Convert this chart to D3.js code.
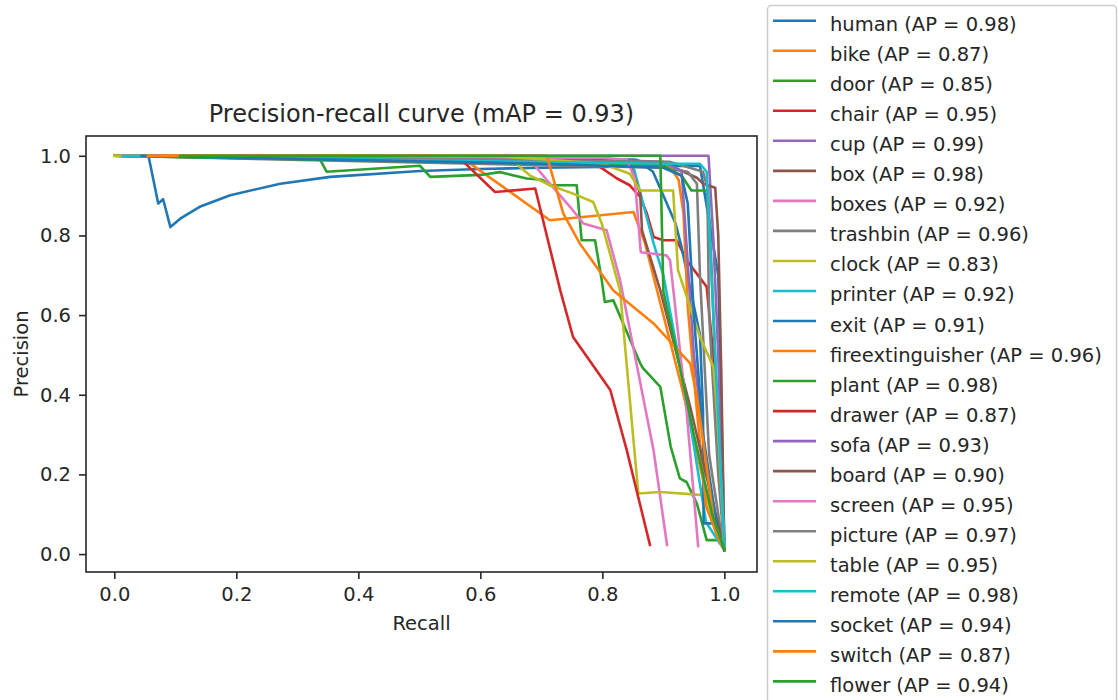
<!DOCTYPE html>
<html>
<head>
<meta charset="utf-8">
<script src="https://cdn.jsdelivr.net/npm/d3@7"></script>
<style>
  body { margin: 0; background: #fff; }
  svg { display: block; font-family: "DejaVu Sans", sans-serif; }
</style>
</head>
<body>
<svg id="chart" width="1118" height="700"></svg>
<script>
// class names and their AP values (legend order)
const classNames = ['human', 'bike', 'door', 'chair', 'cup', 'box', 'boxes', 'trashbin', 'clock', 'printer',
  'exit', 'fireextinguisher', 'plant', 'drawer', 'sofa', 'board', 'screen', 'picture', 'table', 'remote',
  'socket', 'switch', 'flower'];
const apValues = [0.98, 0.87, 0.85, 0.95, 0.99, 0.98, 0.92, 0.96, 0.83, 0.92,
  0.91, 0.96, 0.98, 0.87, 0.93, 0.90, 0.95, 0.97, 0.95, 0.98,
  0.94, 0.87, 0.94];
const mAP = 0.93;

// [recall, precision] points
const human = [[0.0, 1.0], [0.056, 1.0], [0.072, 0.88], [0.08, 0.891], [0.092, 0.821], [0.108, 0.842], [0.14, 0.872],
  [0.19, 0.901], [0.272, 0.93], [0.354, 0.947], [0.501, 0.962], [0.6, 0.967], [0.7, 0.97], [0.8, 0.972],
  [0.9, 0.974], [0.96, 0.975], [0.99, 0.7], [1.0, 0.02]];
const bike = [[0.0, 1.0], [0.55, 1.0], [0.572, 0.993], [0.714, 0.838], [0.851, 0.859], [0.87, 0.78], [0.93, 0.42],
  [0.975, 0.12], [1.0, 0.01]];
const door = [[0.0, 1.0], [0.334, 1.0], [0.348, 0.96], [0.501, 0.975], [0.518, 0.947], [0.6, 0.952], [0.632, 0.959],
  [0.676, 0.943], [0.701, 0.94], [0.714, 0.926], [0.758, 0.926], [0.766, 0.788], [0.788, 0.788], [0.799, 0.688],
  [0.804, 0.633], [0.818, 0.637], [0.862, 0.479], [0.867, 0.466], [0.895, 0.42], [0.912, 0.27], [0.927, 0.19],
  [0.938, 0.181], [0.955, 0.127], [0.971, 0.035], [0.988, 0.035]];
const chair = [[0.0, 1.0], [0.7, 1.0], [0.747, 0.989], [0.758, 0.976], [0.796, 0.972], [0.824, 0.943], [0.845, 0.926],
  [0.862, 0.897], [0.873, 0.855], [0.884, 0.796], [0.9, 0.788], [0.922, 0.788], [0.938, 0.738], [0.971, 0.671],
  [0.985, 0.45], [1.0, 0.02]];
const cup = [[0.0, 1.0], [0.974, 1.0], [0.977, 0.92], [0.982, 0.79], [0.99, 0.5], [1.0, 0.01]];
const box = [[0.0, 1.0], [0.85, 0.99], [0.916, 0.972], [0.955, 0.945], [0.965, 0.93], [0.985, 0.92], [0.99, 0.8],
  [0.995, 0.45], [1.0, 0.01]];
const boxes = [[0.0, 1.0], [0.62, 1.0], [0.665, 0.993], [0.687, 0.98], [0.709, 0.939], [0.747, 0.872], [0.769, 0.83],
  [0.807, 0.813], [0.829, 0.688], [0.884, 0.26], [0.906, 0.023]];
const trashbin = [[0.0, 1.0], [0.9, 0.97], [0.94, 0.96], [0.955, 0.93], [0.96, 0.7], [0.975, 0.25], [0.995, 0.05],
  [1.0, 0.01]];
const clock = [[0.0, 1.0], [0.649, 0.997], [0.665, 0.972], [0.681, 0.951], [0.714, 0.926], [0.752, 0.905],
  [0.785, 0.884], [0.799, 0.83], [0.829, 0.662], [0.851, 0.286], [0.859, 0.152], [0.895, 0.156], [0.966, 0.148],
  [0.993, 0.035]];
const printer = [[0.0, 1.0], [0.7, 0.99], [0.82, 0.98], [0.851, 0.972], [0.884, 0.78], [0.9, 0.7], [0.938, 0.386],
  [0.97, 0.08], [1.0, 0.01]];
const exitSign = [[0.0, 1.0], [0.6, 0.985], [0.856, 0.99], [0.883, 0.96], [0.92, 0.83], [0.93, 0.77], [0.96, 0.55],
  [0.965, 0.36], [0.966, 0.077], [0.988, 0.077], [1.0, 0.01]];
const fireextinguisher = [[0.0, 1.0], [0.9, 0.98], [0.911, 0.972], [0.925, 0.94], [0.933, 0.855], [0.94, 0.62],
  [0.955, 0.36], [0.97, 0.12], [0.99, 0.04], [1.0, 0.01]];
const plant = [[0.0, 1.0], [0.9, 0.975], [0.93, 0.95], [0.946, 0.913], [0.973, 0.913], [0.979, 0.713], [0.99, 0.3],
  [1.0, 0.01]];
const drawer = [[0.0, 1.0], [0.52, 1.0], [0.567, 0.993], [0.624, 0.909], [0.69, 0.918], [0.731, 0.662],
  [0.752, 0.545], [0.813, 0.412], [0.84, 0.261], [0.878, 0.023]];
const sofa = [[0.0, 1.0], [0.8, 0.99], [0.9, 0.985], [0.93, 0.96], [0.95, 0.5], [0.98, 0.1], [1.0, 0.01]];
const board = [[0.0, 1.0], [0.8, 0.99], [0.845, 0.98], [0.862, 0.905], [0.865, 0.813], [0.895, 0.662],
  [0.944, 0.37], [0.97, 0.2], [1.0, 0.01]];
const screen = [[0.0, 1.0], [0.8, 0.995], [0.84, 0.99], [0.853, 0.945], [0.863, 0.758], [0.905, 0.75],
  [0.911, 0.738], [0.938, 0.361], [0.957, 0.02]];
const picture = [[0.0, 1.0], [0.91, 0.985], [0.965, 0.96], [0.972, 0.92], [0.975, 0.6], [0.99, 0.2], [1.0, 0.01]];
const table = [[0.0, 1.0], [0.62, 1.0], [0.8, 0.98], [0.845, 0.955], [0.862, 0.913], [0.916, 0.913], [0.924, 0.713],
  [0.96, 0.545], [0.982, 0.47], [0.988, 0.361], [1.0, 0.02]];
const remote = [[0.014, 1.0], [0.9, 0.98], [0.96, 0.98], [0.971, 0.96], [0.976, 0.8], [0.985, 0.5], [1.0, 0.02]];
const socket = [[0.045, 1.0], [0.7, 0.98], [0.9, 0.97], [0.93, 0.95], [0.94, 0.88], [0.95, 0.6], [0.965, 0.3],
  [0.99, 0.05], [1.0, 0.01]];
const switchPts = [[0.055, 1.0], [0.709, 1.0], [0.736, 0.855], [0.763, 0.78], [0.818, 0.662], [0.884, 0.579],
  [0.944, 0.479], [0.955, 0.395], [0.965, 0.286], [0.985, 0.06], [1.0, 0.01]];
const flower = [[0.108, 1.0], [0.895, 1.0], [0.9, 0.66], [0.92, 0.52], [0.95, 0.3], [0.98, 0.1], [1.0, 0.01]];

const curves = [human, bike, door, chair, cup, box, boxes, trashbin, clock, printer,
  exitSign, fireextinguisher, plant, drawer, sofa, board, screen, picture, table, remote,
  socket, switchPts, flower];

const tickValues = [0.0, 0.2, 0.4, 0.6, 0.8, 1.0];

// matplotlib default colour cycle
const palette = ['#1f77b4', '#ff7f0e', '#2ca02c', '#d62728', '#9467bd',
  '#8c564b', '#e377c2', '#7f7f7f', '#bcbd22', '#17becf'];

const svg = d3.select('#chart');
const plot = { left: 86, right: 757, top: 136, bottom: 572 };
const fontSize = 19.5;
const textColor = '#262626';

const x = d3.scaleLinear().domain([-0.0464, 1.0535]).range([plot.left, plot.right]);
const y = d3.scaleLinear().domain([-0.045, 1.0497]).range([plot.bottom, plot.top]);

svg.append('defs').append('clipPath').attr('id', 'clip')
  .append('rect')
  .attr('x', plot.left).attr('y', plot.top)
  .attr('width', plot.right - plot.left).attr('height', plot.bottom - plot.top);

const line = d3.line().x(d => x(d[0])).y(d => y(d[1]));

const lines = svg.append('g').attr('clip-path', 'url(#clip)');
curves.forEach((pts, i) => {
  lines.append('path')
    .datum(pts)
    .attr('d', line)
    .attr('fill', 'none')
    .attr('stroke', palette[i % 10])
    .attr('stroke-width', 2.6)
    .attr('stroke-linejoin', 'round')
    .attr('stroke-linecap', 'square');
});

// axes frame
svg.append('rect')
  .attr('x', plot.left).attr('y', plot.top)
  .attr('width', plot.right - plot.left).attr('height', plot.bottom - plot.top)
  .attr('fill', 'none').attr('stroke', textColor).attr('stroke-width', 1.6);

const xAxis = svg.append('g')
  .attr('transform', `translate(0,${plot.bottom})`)
  .call(d3.axisBottom(x).tickValues(tickValues).tickFormat(d3.format('.1f')).tickSize(7).tickPadding(8));
const yAxis = svg.append('g')
  .attr('transform', `translate(${plot.left},0)`)
  .call(d3.axisLeft(y).tickValues(tickValues).tickFormat(d3.format('.1f')).tickSize(7).tickPadding(8));

[xAxis, yAxis].forEach(ax => {
  ax.select('.domain').remove();
  ax.selectAll('line').attr('stroke', textColor).attr('stroke-width', 1.6);
  ax.selectAll('text').attr('fill', textColor).style('font-size', fontSize + 'px')
    .style('font-family', '"DejaVu Sans", sans-serif');
});

svg.append('text')
  .attr('x', (plot.left + plot.right) / 2).attr('y', 122)
  .attr('text-anchor', 'middle')
  .attr('fill', textColor)
  .style('font-size', '24px')
  .text(`Precision-recall curve (mAP = ${mAP.toFixed(2)})`);

svg.append('text')
  .attr('x', (plot.left + plot.right) / 2).attr('y', 630)
  .attr('text-anchor', 'middle')
  .attr('fill', textColor)
  .style('font-size', fontSize + 'px')
  .text('Recall');

svg.append('text')
  .attr('transform', `translate(28,${(plot.top + plot.bottom) / 2}) rotate(-90)`)
  .attr('text-anchor', 'middle')
  .attr('fill', textColor)
  .style('font-size', fontSize + 'px')
  .text('Precision');

// legend
const legend = svg.append('g');
legend.append('rect')
  .attr('x', 767.5).attr('y', 5.5)
  .attr('width', 349).attr('height', 700)
  .attr('rx', 4)
  .attr('fill', 'rgba(255,255,255,0.8)')
  .attr('stroke', '#cccccc').attr('stroke-width', 1.5);

classNames.forEach((name, i) => {
  const rowY = 20.7 + i * 30.03;
  legend.append('line')
    .attr('x1', 773).attr('x2', 816)
    .attr('y1', rowY).attr('y2', rowY)
    .attr('stroke', palette[i % 10])
    .attr('stroke-width', 2.6);
  legend.append('text')
    .attr('x', 830).attr('y', rowY + 10.5)
    .attr('fill', textColor)
    .style('font-size', fontSize + 'px')
    .text(`${name} (AP = ${apValues[i].toFixed(2)})`);
});
</script>
</body>
</html>
